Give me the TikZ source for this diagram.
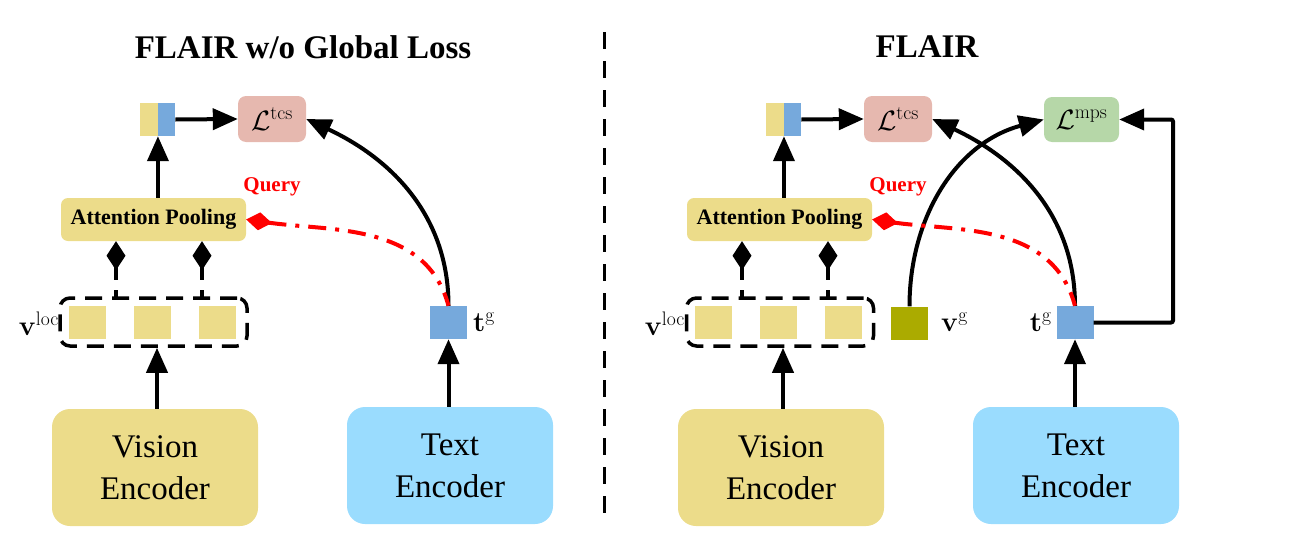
\RequirePackage{fix-cm}
\documentclass[tikz,border=0pt]{standalone}
\usepackage[no-math]{fontspec}
\setmainfont{Liberation Serif}
\usetikzlibrary{arrows.meta}
\definecolor{cyel}{RGB}{236,220,138}
\definecolor{cblu}{RGB}{118,169,220}
\definecolor{cpink}{RGB}{230,184,175}
\definecolor{cgrn}{RGB}{182,215,168}
\definecolor{ctxt}{RGB}{154,220,254}
\definecolor{colive}{RGB}{171,171,0}
\begin{document}
\begin{tikzpicture}[x=1pt,y=1pt,
  tok/.style={fill=#1, draw=none, minimum width=37pt, minimum height=33pt, inner sep=0pt},
  half/.style={fill=#1, draw=none, minimum width=17.5pt, minimum height=33pt, inner sep=0pt},
  lossbox/.style={fill=#1, draw=none, rounded corners=8pt, minimum width=68pt, minimum height=46pt, inner sep=0pt, font=\fontsize{28}{30}\selectfont},
  encbox/.style={fill=#1, draw=none, rounded corners=18pt, minimum width=206pt, minimum height=117pt, align=center, font=\fontsize{33}{42}\selectfont},
  poolbox/.style={fill=cyel, draw=none, rounded corners=7pt, minimum width=185pt, minimum height=43pt, inner sep=0pt, font=\fontsize{22}{24}\selectfont\bfseries},
  grpbox/.style={draw, dash pattern=on 17pt off 10pt, line width=3.5pt, rounded corners=10pt, minimum width=187pt, minimum height=48pt, inner sep=0pt},
  conn/.style={line width=4pt, -{Triangle[length=25pt,width=21pt]}},
  pin/.style={line width=3.5pt, dash pattern=on 13pt off 10pt, {Diamond[length=29pt,width=19pt]}-},
  qry/.style={red, line width=4pt, dash pattern=on 18pt off 9pt on 4pt off 9pt, {Diamond[length=26pt,width=18pt]}-},
  lbl/.style={font=\fontsize{28}{30}\selectfont, inner sep=0pt},
  ttl/.style={font=\fontsize{33}{36}\selectfont\bfseries},
  qlbl/.style={red, font=\fontsize{21}{24}\selectfont\bfseries}
]
\useasboundingbox (0,0) rectangle (1312,-549);

% ---------------- left panel ----------------
\node[ttl] (tA) at (303,-47) {FLAIR w/o Global Loss};
\node[half=cyel] (cyA) at (149,-119.5) {};
\node[half=cblu] (cbA) at (166.5,-119.5) {};
\node[lossbox=cpink] (ltA) at (272,-119) {$\mathcal{L}^{\mathrm{tcs}}$};
\node[poolbox] (apA) at (153.5,-219.5) {Attention Pooling};
\node[qlbl] (qA) at (272,-187) {Query};
\node[grpbox] (gbA) at (153.5,-322) {};
\node[tok=cyel] (s1A) at (87.5,-322) {};
\node[tok=cyel] (s2A) at (152.5,-322) {};
\node[tok=cyel] (s3A) at (217.5,-322) {};
\node[lbl, anchor=east] (vlA) at (59,-324) {$\mathbf{v}^{\mathrm{loc}}$};
\node[tok=cblu] (tgA) at (448.5,-322.5) {};
\node[lbl, anchor=west] (tglA) at (473,-322) {$\mathbf{t}^{\mathrm{g}}$};
\node[encbox=cyel] (veA) at (155,-467.5) {Vision\\Encoder};
\node[encbox=ctxt] (teA) at (450,-465.5) {Text\\Encoder};
\coordinate (p1A) at (116,-298);
\coordinate (p2A) at (202,-298);

\draw[conn] (apA.north -| cyA.south east) -- (cyA.south east);
\draw[conn] (cbA.east) -- (ltA.west);
\draw[conn] (veA.north -| 157,0) -- (gbA.south -| 157,0);
\draw[conn] (tgA.south |- teA.north) -- (tgA.south);
\draw[conn] (tgA.north) to[out=90,in=-25] (ltA.east);
\draw[qry] (apA.east) to[out=-8,in=105] (tgA.north);
\draw[pin] (apA.south -| p1A) -- (p1A);
\draw[pin] (apA.south -| p2A) -- (p2A);

% ---------------- separator ----------------
\coordinate (sepT) at (604,-32);
\coordinate (sepB) at (604,-520);
\draw[line width=3pt, dash pattern=on 17pt off 12pt] (sepT) -- (sepB);

% ---------------- right panel ----------------
\node[ttl] (tB) at (927,-47) {FLAIR};
\node[half=cyel] (cyB) at (775,-119.5) {};
\node[half=cblu] (cbB) at (792.5,-119.5) {};
\node[lossbox=cpink] (ltB) at (898,-119) {$\mathcal{L}^{\mathrm{tcs}}$};
\node[lossbox=cgrn, minimum width=75pt, minimum height=45pt] (lmB) at (1081.5,-119.5) {$\mathcal{L}^{\mathrm{mps}}$};
\node[poolbox] (apB) at (779.5,-219.5) {Attention Pooling};
\node[qlbl] (qB) at (898,-187) {Query};
\node[grpbox] (gbB) at (780,-322) {};
\node[tok=cyel] (s1B) at (713.5,-322) {};
\node[tok=cyel] (s2B) at (778.5,-322) {};
\node[tok=cyel] (s3B) at (843.5,-322) {};
\node[lbl, anchor=east] (vlB) at (685,-324) {$\mathbf{v}^{\mathrm{loc}}$};
\node[tok=colive] (vgB) at (909.5,-323) {};
\node[lbl, anchor=west] (vglB) at (941,-322) {$\mathbf{v}^{\mathrm{g}}$};
\node[tok=cblu] (tgB) at (1075,-322.5) {};
\node[lbl, anchor=east] (tglB) at (1052,-322) {$\mathbf{t}^{\mathrm{g}}$};
\node[encbox=cyel] (veB) at (781,-467.5) {Vision\\Encoder};
\node[encbox=ctxt] (teB) at (1076,-465.5) {Text\\Encoder};
\coordinate (p1B) at (742,-298);
\coordinate (p2B) at (828,-298);
\coordinate (elB) at (1173,-322.5);

\draw[conn] (apB.north -| cyB.south east) -- (cyB.south east);
\draw[conn] (cbB.east) -- (ltB.west);
\draw[conn] (veB.north -| 783,0) -- (gbB.south -| 783,0);
\draw[conn] (tgB.south |- teB.north) -- (tgB.south);
\draw[conn] (vgB.north) to[out=90,in=195] (lmB.west);
\draw[conn] (tgB.north) to[out=90,in=-25] (ltB.east);
\draw[conn, rounded corners=2pt] (tgB.east) -- (elB) |- (lmB.east);
\draw[qry] (apB.east) to[out=-8,in=105] (tgB.north);
\draw[pin] (apB.south -| p1B) -- (p1B);
\draw[pin] (apB.south -| p2B) -- (p2B);
\end{tikzpicture}
\end{document}
